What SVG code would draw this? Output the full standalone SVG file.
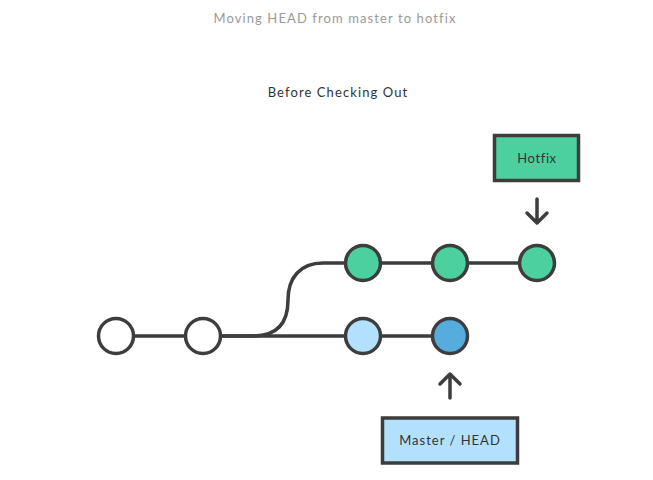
<svg xmlns="http://www.w3.org/2000/svg" width="653" height="480" viewBox="0 0 653 480">
<style>
.t{font-family:"Lato","Liberation Sans",sans-serif;text-anchor:middle;dominant-baseline:central}
.line{fill:none;stroke:#3d3d3d;stroke-width:3.5;stroke-linecap:round;stroke-linejoin:round}
.c{stroke:#3d3d3d;stroke-width:3.5}
.box{stroke:#3d3d3d;stroke-width:3.5}
</style>
<rect width="653" height="480" fill="#ffffff"/>
<text class="t" x="335" y="18" font-size="13" fill="#9a9a9a" letter-spacing="1.1">Moving HEAD from master to hotfix</text>
<text class="t" x="338" y="92" font-size="13" fill="#333333" letter-spacing="1.1">Before Checking Out</text>
<g id="connectors">
<path class="line" d="M116,336 H363"/>
<path class="line" d="M203,336 H253 C278,336 288,322 288,300 C288,278 300,263 323,263 H537"/>
<path class="line" d="M537,199 V223 M527,213 L537,223 L547,213"/>
<path class="line" d="M450,398 V374 M440,384 L450,374 L460,384"/>
<path class="line" d="M363,336 H450"/>
</g>
<g id="c1"><circle class="c" cx="116" cy="336" r="17.5" fill="#ffffff"/></g>
<g id="c2"><circle class="c" cx="203" cy="336" r="17.5" fill="#ffffff"/></g>
<g id="c3"><circle class="c" cx="363" cy="336" r="17.5" fill="#b3e1fd"/></g>
<g id="c4"><circle class="c" cx="450" cy="336" r="17.5" fill="#57acde"/></g>
<g id="g1"><circle class="c" cx="363" cy="263" r="17.5" fill="#4dd0a0"/></g>
<g id="g2"><circle class="c" cx="450" cy="263" r="17.5" fill="#4dd0a0"/></g>
<g id="g3"><circle class="c" cx="537" cy="263" r="17.5" fill="#4dd0a0"/></g>
<g id="hotfix">
<rect class="box" x="494.5" y="135.5" width="84" height="45" fill="#4dd0a0"/>
<text class="t" x="537" y="158" font-size="13" fill="#333333" letter-spacing="0.6">Hotfix</text>
</g>
<g id="master">
<rect class="box" x="382.5" y="418" width="135" height="45" fill="#b3e1fd"/>
<text class="t" x="450" y="440" font-size="13" fill="#333333" letter-spacing="1">Master / HEAD</text>
</g>
</svg>
